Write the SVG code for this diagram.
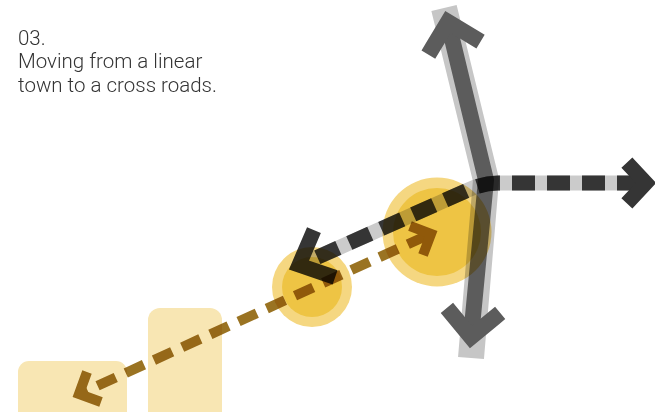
<svg xmlns="http://www.w3.org/2000/svg" width="655" height="412" viewBox="0 0 655 412">
<style>
.t{font-family:Roboto,"Liberation Sans",sans-serif;font-weight:300;font-size:20.5px;fill:#333}
.rect{fill:#f8e6b3}
.ring{fill:#f5d781}
.core{fill:#eec444}
.mul{mix-blend-mode:multiply}
.brown{fill:none;stroke:#9a7322;stroke-width:10}
.vlight{fill:none;stroke:#c6c6c6;stroke-width:26;stroke-linejoin:round}
.vdark{fill:none;stroke:#5c5c5c;stroke-width:16;stroke-linejoin:miter}
.hlight{fill:none;stroke:#cbcbcb;stroke-width:15}
.hdark{fill:none;stroke:#353535;stroke-width:15}
</style>
<g id="title">
<text class="t" x="18" y="44.5">03.</text>
<text class="t" x="18" y="68">Moving from a linear</text>
<text class="t" x="18" y="91.7">town to a cross roads.</text>
</g>
<g id="block-left"><rect class="rect" x="18" y="361" width="109" height="70" rx="11"/></g>
<g id="block-right"><rect class="rect" x="148" y="308" width="74" height="130" rx="12"/></g>
<g id="circle-small"><circle class="ring" cx="312" cy="287" r="40"/><circle class="core" cx="312" cy="287" r="30"/></g>
<g id="circle-big"><circle class="ring" cx="437" cy="232" r="54.5"/><circle class="core" cx="437" cy="232" r="44"/></g>
<g id="connectors">
<g id="vertical-road" class="mul">
<polyline class="vlight" points="444,8 486,180 471,358"/>
<polyline class="vdark" points="448,22 486,180 471,337"/>
<polyline class="vdark" points="432.5,47.7 448,22 473.7,37.5" stroke-linecap="square"/>
<polyline class="vdark" points="494,318 471,337 452,314" stroke-linecap="square"/>
</g>
<g id="dashed-road" class="mul">
<path class="hlight" d="M640,183 L498,183 Q483,183 468,190 L300,265"/>
<path class="hdark" stroke-dasharray="23 12" d="M640,183 L498,183 Q483,183 468,190 L300,265"/>
<polyline class="hdark" points="632,168 646,183 632,198" stroke-linecap="square"/>
<polyline class="hdark" points="311,237 299,265 328,275" stroke-linecap="square" stroke-width="16"/>
</g>
<g id="brown-arrow" class="mul">
<path class="brown" stroke-dasharray="20 11" d="M426,236 L84,392"/>
<polyline class="brown" points="410,226 431,234 423,255"/>
<polyline class="brown" points="101,402 79,394 87,372"/>
</g>
</g>
</svg>
